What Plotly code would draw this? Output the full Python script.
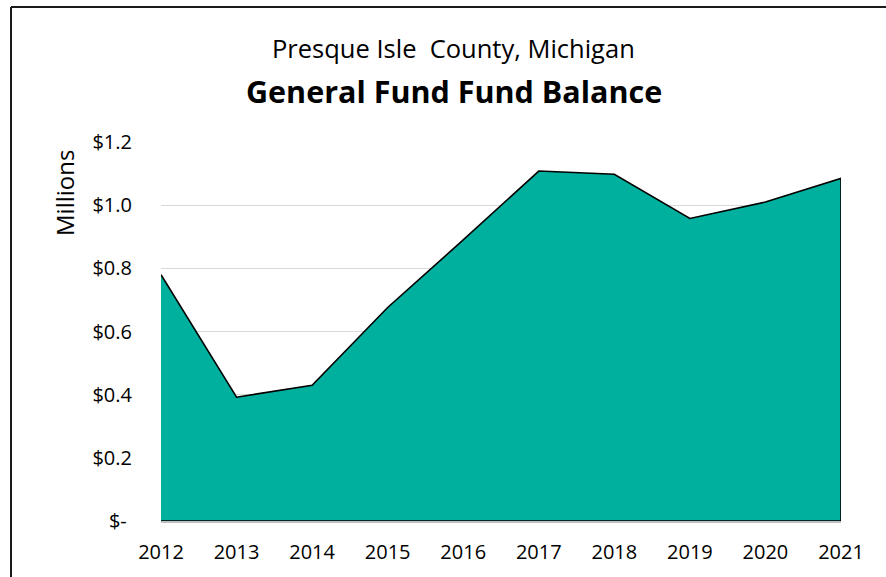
import plotly.graph_objects as go

years = [2012, 2013, 2014, 2015, 2016, 2017, 2018, 2019, 2020, 2021]
balance_millions = [0.780, 0.392, 0.430, 0.676, 0.890, 1.108, 1.098, 0.958, 1.010, 1.085]
y_tickvals = [0, 0.2, 0.4, 0.6, 0.8, 1.0, 1.2]
y_ticktext = ["$- ", "$0.2", "$0.4", "$0.6", "$0.8", "$1.0", "$1.2"]

W, H = 886, 577
L, R, T, B = 161, 45, 142, 56
PW, PH = W - L - R, H - T - B


def px_x(p):
    return (p - L) / PW


def px_y(p):
    return (H - B - p) / PH


# closed polygon built from the data so the outline runs down both ends
poly_x = years + [years[-1], years[0]]
poly_y = balance_millions + [0, 0]

fig = go.Figure()
fig.add_trace(go.Scatter(
    x=poly_x, y=poly_y, mode="lines", fill="toself",
    fillcolor="#00B09F", line=dict(color="black", width=1.6),
    hoverinfo="skip", showlegend=False,
))

font_family = "'Open Sans', sans-serif"
border = dict(color="#1a1a1a", width=2)

fig.update_layout(
    width=W, height=H,
    margin=dict(l=L, r=R, t=T, b=B, autoexpand=False),
    paper_bgcolor="white", plot_bgcolor="white",
    showlegend=False,
    font=dict(family=font_family, color="#000000", size=20),
    xaxis=dict(
        range=[years[0], years[-1]], tickmode="array", tickvals=years,
        ticktext=[str(y) for y in years], showgrid=False, zeroline=False,
        showline=True, linecolor="#BFBFBF", linewidth=1.5, layer="above traces",
        ticks="", ticklabelstandoff=12, tickfont=dict(size=20),
    ),
    yaxis=dict(
        range=[0, 1.2], tickmode="array", tickvals=y_tickvals, ticktext=y_ticktext,
        showgrid=True, gridcolor="#D9D9D9", gridwidth=1.3, zeroline=False,
        showline=False, ticks="", ticklabelstandoff=28, tickfont=dict(size=20),
    ),
    annotations=[
        dict(text="Presque Isle  County, Michigan", xref="paper", yref="paper",
             x=px_x(453), y=px_y(48), xanchor="center", yanchor="middle",
             showarrow=False, font=dict(size=25.5, family=font_family)),
        dict(text="<b>General Fund Fund Balance</b>", xref="paper", yref="paper",
             x=px_x(454), y=px_y(91), xanchor="center", yanchor="middle",
             showarrow=False, font=dict(size=30.5, family=font_family)),
        dict(text="Millions", xref="paper", yref="paper",
             x=px_x(64), y=px_y(193), xanchor="center", yanchor="middle",
             textangle=-90, showarrow=False, font=dict(size=24, family=font_family)),
    ],
    shapes=[
        dict(type="line", xref="paper", yref="paper",
             x0=px_x(11), x1=px_x(W + 10), y0=px_y(7), y1=px_y(7),
             line=border, layer="above"),
        dict(type="line", xref="paper", yref="paper",
             x0=px_x(11), x1=px_x(11), y0=px_y(7), y1=px_y(H + 10),
             line=border, layer="above"),
    ],
)

fig.write_html(
    "out.html", config={"displayModeBar": False},
    post_script="document.body.style.margin='0px';"
                "document.body.style.overflow='hidden';"
                "document.documentElement.style.overflow='hidden';",
)
